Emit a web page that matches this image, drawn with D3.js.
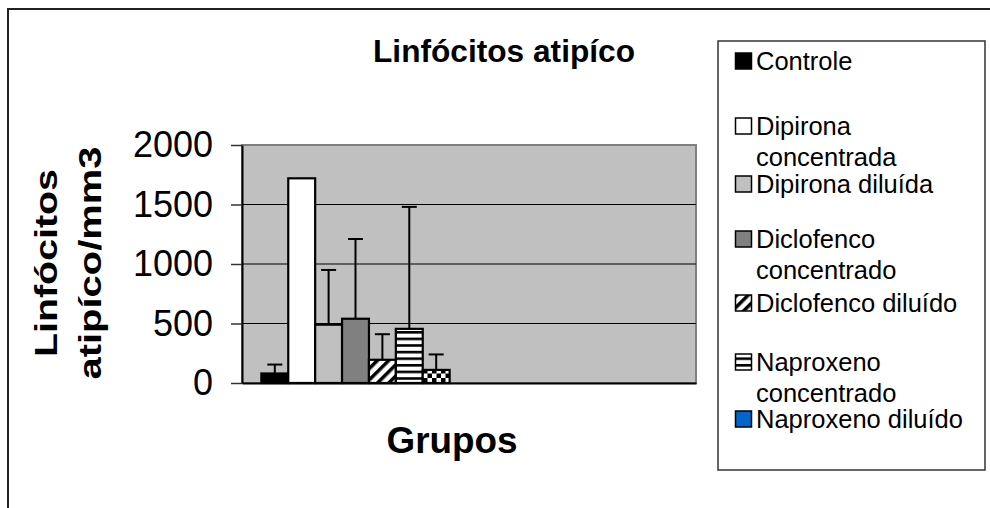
<!DOCTYPE html>
<html>
<head>
<meta charset="utf-8">
<script src="https://cdn.jsdelivr.net/npm/d3@7"></script>
<style>
  body { margin: 0; background: #fff; }
  svg { display: block; }
  text { font-family: "Liberation Sans", Arial, sans-serif; fill: #000; }
</style>
</head>
<body>
<svg id="chart" width="990" height="508"></svg>
<script>
// ---------- data ----------
const categories = ["", " "];            // two category slots, both unlabeled (second is empty)
const seriesNames = [
  "Controle",
  "Dipirona concentrada",
  "Dipirona diluída",
  "Diclofenco concentrado",
  "Diclofenco diluído",
  "Naproxeno concentrado",
  "Naproxeno diluído"
];
const means  = [80, 1720, 490, 540, 195, 455, 110];
const errors = [75, 0, 460, 670, 215, 1025, 130];
const yTicks = [0, 500, 1000, 1500, 2000];
const chartTitle = "Linfócitos atipíco";
const xTitle = "Grupos";
const yTitleLines = ["Linfócitos", "atipíco/mm3"];

// ---------- styles ----------
const barFills    = ["#000000", "#ffffff", "#c0c0c0", "#808080", "url(#diag)", "url(#hstripe)", "url(#checker)"];
const legendFills = ["#000000", "#ffffff", "#c0c0c0", "#808080", "url(#diag)", "url(#hstripe)", "#0066cc"];

// ---------- layout ----------
const plot = { left: 242, right: 696, top: 145, bottom: 383 };
const legendBox = { x: 718, y: 41, w: 267, h: 429 };
const legendRowY = [61, 126, 184, 239, 303, 362, 419];

const svg = d3.select("#chart");

// patterns
const defs = svg.append("defs");
const pd = defs.append("pattern").attr("id", "diag")
  .attr("patternUnits", "userSpaceOnUse").attr("width", 8).attr("height", 8)
  .attr("patternTransform", "rotate(45)");
pd.append("rect").attr("width", 8).attr("height", 8).attr("fill", "#fff");
pd.append("rect").attr("width", 3.5).attr("height", 8).attr("fill", "#000");

const ph = defs.append("pattern").attr("id", "hstripe")
  .attr("patternUnits", "userSpaceOnUse").attr("width", 8).attr("height", 6.6)
  .attr("y", 1);
ph.append("rect").attr("width", 8).attr("height", 6.6).attr("fill", "#fff");
ph.append("rect").attr("width", 8).attr("height", 2.6).attr("fill", "#000");

const pc = defs.append("pattern").attr("id", "checker")
  .attr("patternUnits", "userSpaceOnUse").attr("width", 9).attr("height", 9);
pc.append("rect").attr("width", 9).attr("height", 9).attr("fill", "#fff");
pc.append("rect").attr("width", 4.5).attr("height", 4.5).attr("fill", "#000");
pc.append("rect").attr("x", 4.5).attr("y", 4.5).attr("width", 4.5).attr("height", 4.5).attr("fill", "#000");

// outer chart border (extends past the window on right/bottom)
svg.append("rect")
  .attr("x", 8).attr("y", 9).attr("width", 1100).attr("height", 600)
  .attr("fill", "none").attr("stroke", "#222").attr("stroke-width", 2);

// scales
const x0 = d3.scaleBand().domain(categories).range([plot.left, plot.right]).padding(0);
const x1 = d3.scaleBand().domain(seriesNames).range([0, x0.bandwidth()])
  .paddingInner(0).paddingOuter(0.72);
const y = d3.scaleLinear().domain([0, 2000]).range([plot.bottom, plot.top]);

// plot background
svg.append("rect")
  .attr("x", plot.left).attr("y", plot.top)
  .attr("width", plot.right - plot.left).attr("height", plot.bottom - plot.top)
  .attr("fill", "#c0c0c0").attr("stroke", "#808080").attr("stroke-width", 2);

// gridlines
svg.append("g").selectAll("line")
  .data(yTicks.filter(d => d > 0 && d < 2000))
  .join("line")
  .attr("x1", plot.left).attr("x2", plot.right)
  .attr("y1", d => y(d)).attr("y2", d => y(d))
  .attr("stroke", "#000").attr("stroke-width", 1);

// bars
const barG = svg.append("g");
barG.selectAll("rect")
  .data(means)
  .join("rect")
  .attr("x", (d, i) => x0(categories[0]) + x1(seriesNames[i]))
  .attr("y", d => y(d))
  .attr("width", x1.bandwidth())
  .attr("height", d => y(0) - y(d))
  .attr("fill", (d, i) => barFills[i])
  .attr("stroke", "#000").attr("stroke-width", 2.2);

// error bars
const errG = svg.append("g").attr("stroke", "#000").attr("stroke-width", 2);
means.forEach((m, i) => {
  if (!errors[i]) return;
  const cx = x0(categories[0]) + x1(seriesNames[i]) + x1.bandwidth() / 2;
  errG.append("line").attr("x1", cx).attr("x2", cx)
    .attr("y1", y(m)).attr("y2", y(m + errors[i]));
  errG.append("line").attr("x1", cx - 7.5).attr("x2", cx + 7.5)
    .attr("y1", y(m + errors[i])).attr("y2", y(m + errors[i]));
});

// y axis
const yAxis = svg.append("g")
  .attr("transform", `translate(${plot.left},0)`)
  .call(d3.axisLeft(y).tickValues(yTicks).tickFormat(d3.format("d"))
    .tickSize(11).tickPadding(18).tickSizeOuter(0));
yAxis.select(".domain").attr("stroke", "#000").attr("stroke-width", 2);
yAxis.selectAll(".tick line").attr("stroke", "#333").attr("stroke-width", 1.5);
yAxis.selectAll(".tick text")
  .attr("font-family", '"Liberation Sans", Arial, sans-serif')
  .attr("font-size", 36).attr("fill", "#000");

// x axis (no labels)
const xAxis = svg.append("g")
  .attr("transform", `translate(0,${plot.bottom})`)
  .call(d3.axisBottom(x0).tickSize(0).tickSizeOuter(0).tickFormat(() => ""));
xAxis.select(".domain").attr("stroke", "#000").attr("stroke-width", 2);

// chart title
svg.append("text")
  .attr("x", 504).attr("y", 62)
  .attr("text-anchor", "middle")
  .attr("font-size", 31).attr("font-weight", "bold")
  .attr("textLength", 262).attr("lengthAdjust", "spacingAndGlyphs")
  .text(chartTitle);

// x title
svg.append("text")
  .attr("x", 452).attr("y", 453)
  .attr("text-anchor", "middle")
  .attr("font-size", 36).attr("font-weight", "bold")
  .attr("textLength", 131).attr("lengthAdjust", "spacingAndGlyphs")
  .text(xTitle);

// y title
const yTitleX = [57, 101];
const yTitleLen = [188, 233];
yTitleLines.forEach((t, i) => {
  svg.append("text")
    .attr("transform", `translate(${yTitleX[i]},263) rotate(-90)`)
    .attr("text-anchor", "middle")
    .attr("font-size", 31).attr("font-weight", "bold")
    .attr("textLength", yTitleLen[i]).attr("lengthAdjust", "spacingAndGlyphs")
    .text(t);
});

// legend
svg.append("rect")
  .attr("x", legendBox.x).attr("y", legendBox.y)
  .attr("width", legendBox.w).attr("height", legendBox.h)
  .attr("fill", "#fff").attr("stroke", "#333").attr("stroke-width", 1.5);

const legendFont = 25.5;
const maxTextW = 222;
const lg = svg.append("g");
seriesNames.forEach((name, i) => {
  const cy = legendRowY[i];
  lg.append("rect")
    .attr("x", 735.5).attr("y", cy - 8).attr("width", 16).attr("height", 16)
    .attr("fill", legendFills[i]).attr("stroke", "#000").attr("stroke-width", 1.5);
  // wrap text
  const words = name.split(" ");
  const t = lg.append("text").attr("font-size", legendFont);
  let lines = [];
  let cur = "";
  words.forEach(w => {
    const test = cur ? cur + " " + w : w;
    t.text(test);
    if (t.node().getComputedTextLength() > maxTextW && cur) {
      lines.push(cur);
      cur = w;
    } else {
      cur = test;
    }
  });
  lines.push(cur);
  t.text(null);
  lines.forEach((ln, j) => {
    t.append("tspan")
      .attr("x", 756)
      .attr("y", cy + j * 31 + 9.2)
      .text(ln);
  });
});
</script>
</body>
</html>
